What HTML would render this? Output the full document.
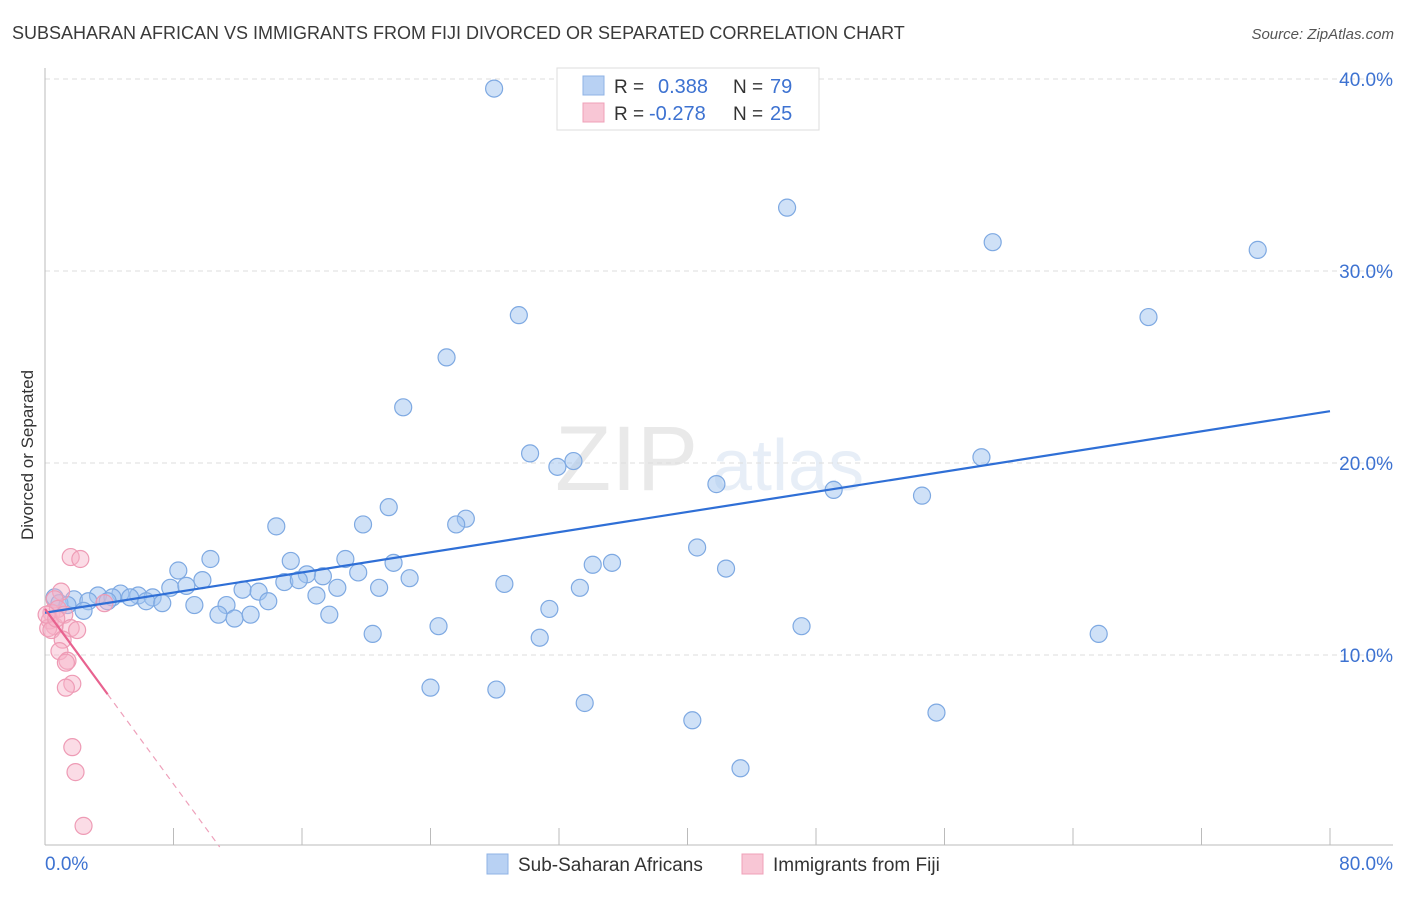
<!DOCTYPE html>
<html><head><meta charset="utf-8">
<style>
body{margin:0;background:#fff;font-family:"Liberation Sans",sans-serif;}
svg text{font-family:"Liberation Sans",sans-serif;}
</style></head>
<body>
<svg id="chart" width="1406" height="892" xmlns="http://www.w3.org/2000/svg">
<text x="12" y="39" font-size="18" fill="#3a3a3a">SUBSAHARAN AFRICAN VS IMMIGRANTS FROM FIJI DIVORCED OR SEPARATED CORRELATION CHART</text>
<text x="1394" y="39" font-size="15" fill="#555" text-anchor="end" font-style="italic">Source: ZipAtlas.com</text>
<text transform="translate(33,455) rotate(-90)" font-size="17" fill="#333" text-anchor="middle">Divorced or Separated</text>
<g opacity="0.18">
<text x="555" y="490" font-size="92" font-family="Liberation Serif" fill="#888">ZIP</text>
<text x="712" y="490" font-size="72" fill="#7fa6d8">atlas</text>
</g>
<g id="grid"></g>
<g id="axes"></g>
<g id="points"></g>
<g id="trends"></g>
<g>
<rect x="557" y="68" width="262" height="62" fill="#fff" stroke="#ddd"/>
<rect x="583" y="76" width="21" height="19" fill="#b8d1f3" stroke="#8fb3e6"/>
<rect x="583" y="103" width="21" height="19" fill="#f8c6d5" stroke="#efa0b8"/>
<text x="614" y="93" font-size="19" fill="#333">R =</text>
<text x="658" y="93" font-size="20" fill="#3d72d1">0.388</text>
<text x="733" y="93" font-size="19" fill="#333">N =</text>
<text x="770" y="93" font-size="20" fill="#3d72d1">79</text>
<text x="614" y="120" font-size="19" fill="#333">R =</text>
<text x="649" y="120" font-size="20" fill="#3d72d1">-0.278</text>
<text x="733" y="120" font-size="19" fill="#333">N =</text>
<text x="770" y="120" font-size="20" fill="#3d72d1">25</text>
</g>
<g>
<rect x="487" y="854" width="21" height="20" fill="#b8d1f3" stroke="#8fb3e6"/>
<text x="518" y="871" font-size="19" fill="#333">Sub-Saharan Africans</text>
<rect x="742" y="854" width="21" height="20" fill="#f8c6d5" stroke="#efa0b8"/>
<text x="773" y="871" font-size="19" fill="#333">Immigrants from Fiji</text>
</g>
</svg>
<script>
const blueX=[27.96,46.2,59.0,75.5,29.5,68.7,25.0,22.3,30.2,31.9,32.9,58.3,41.8,49.1,54.6,21.4,26.2,25.6,19.8,14.4,40.6,18.7,10.3,15.3,21.7,34.1,35.3,8.3,42.4,19.5,17.3,16.3,22.7,9.8,14.9,15.8,28.6,7.8,8.8,12.3,18.2,20.8,33.3,13.3,16.9,4.7,3.3,5.8,6.7,5.3,4.2,6.3,7.3,1.8,2.7,13.9,3.9,0.6,0.9,1.4,9.3,11.3,31.4,2.4,10.8,11.8,12.8,17.7,24.5,47.1,65.6,20.4,30.8,24.0,28.1,33.6,55.5,40.3,43.3];
const blueY=[39.5,33.3,31.5,31.1,27.7,27.6,25.5,22.9,20.5,19.8,20.1,20.3,18.9,18.6,18.3,17.7,17.1,16.8,16.8,16.7,15.6,15.0,15.0,14.9,14.8,14.7,14.8,14.4,14.5,14.3,14.1,14.2,14.0,13.9,13.8,13.9,13.7,13.5,13.6,13.4,13.5,13.5,13.5,13.3,13.1,13.2,13.1,13.1,13.0,13.0,13.0,12.8,12.7,12.9,12.8,12.8,12.8,13.0,12.7,12.6,12.6,12.6,12.4,12.3,12.1,11.9,12.1,12.1,11.5,11.5,11.1,11.1,10.9,8.3,8.2,7.5,7.0,6.6,4.1];
const pinkX=[1.6,2.2,1.0,0.6,3.7,0.4,0.8,0.3,0.6,1.2,0.2,0.4,1.6,2.0,1.1,0.9,1.4,1.3,1.7,1.3,1.7,1.9,2.4,0.1,0.7];
const pinkY=[15.1,15.0,13.3,12.9,12.7,12.2,12.4,11.8,11.5,12.1,11.4,11.3,11.4,11.3,10.8,10.2,9.7,9.6,8.5,8.3,5.2,3.9,1.1,12.1,11.9];
const blueTrend=[12.2,22.7]; // y at x=0 and x=80
const pinkTrend=[12.4,-1.14]; // intercept, slope
const pinkSolidEnd=3.9;
const yTicks=[10,20,30,40];
const yTickLabels=["10.0%","20.0%","30.0%","40.0%"];
const xTicks=[0,8,16,24,32,40,48,56,64,72,80];

const NS="http://www.w3.org/2000/svg";
const X0=45,X1=1330,YB=847,PXY=19.2;
function sx(v){return X0+(X1-X0)*v/80;}
function sy(v){return YB-v*PXY;}
function mk(tag,attrs,parent){const e=document.createElementNS(NS,tag);for(const k in attrs)e.setAttribute(k,attrs[k]);parent.appendChild(e);return e;}
const grid=document.getElementById('grid'),axes=document.getElementById('axes'),pts=document.getElementById('points'),tr=document.getElementById('trends');
yTicks.forEach((t,i)=>{
 const l=mk('line',{x1:X0,x2:1393,y1:sy(t),y2:sy(t),stroke:'#ddd','stroke-dasharray':'5,4'},grid);
 
 
 const tx=mk('text',{x:1393,y:sy(t)-20+27,'font-size':19,fill:'#3d72d1','text-anchor':'end'},axes);
 tx.textContent=yTickLabels[i];
 
 
});
const la=mk('line',{x1:X0,x2:X0,y1:68,y2:845,stroke:'#bbb'},axes);


const ba=mk('line',{x1:X0,x2:1393,y1:845,y2:845,stroke:'#bbb'},axes);


xTicks.forEach((t,i)=>{
 if(i===0)return;
 const l=mk('line',{x1:sx(t),x2:sx(t),y1:828,y2:845,stroke:'#bbb'},axes);
 
 
});
const xl0=mk('text',{x:45,y:870,'font-size':19,fill:'#3d72d1'},axes);xl0.textContent='0.0%';


const xl1=mk('text',{x:1393,y:870,'font-size':19,fill:'#3d72d1','text-anchor':'end'},axes);xl1.textContent='80.0%';


blueX.forEach((v,i)=>{
 const c=mk('circle',{cx:sx(v),cy:sy(blueY[i]),r:8.5,fill:'rgba(160,195,240,0.5)',stroke:'#7ea9e2','stroke-width':1.2},pts);
 
 
});
pinkX.forEach((v,i)=>{
 const c=mk('circle',{cx:sx(v),cy:sy(pinkY[i]),r:8.5,fill:'rgba(246,178,200,0.45)',stroke:'#ee9bb5','stroke-width':1.2},pts);
 
 
});
const bt=mk('line',{x1:sx(0),y1:sy(blueTrend[0]),x2:sx(80),y2:sy(blueTrend[1]),stroke:'#2f6fd6','stroke-width':2.2},tr);


const pEnd=-pinkTrend[0]/pinkTrend[1];
const ps=mk('line',{x1:sx(0),y1:sy(pinkTrend[0]),x2:sx(pinkSolidEnd),y2:sy(pinkTrend[0]+pinkTrend[1]*pinkSolidEnd),stroke:'#e8628f','stroke-width':2.2},tr);


const pd=mk('line',{x1:sx(pinkSolidEnd),y1:sy(pinkTrend[0]+pinkTrend[1]*pinkSolidEnd),x2:sx(pEnd),y2:sy(0),stroke:'#eea0ba','stroke-width':1.2,'stroke-dasharray':'6,5'},tr);


</script>
</body></html>
